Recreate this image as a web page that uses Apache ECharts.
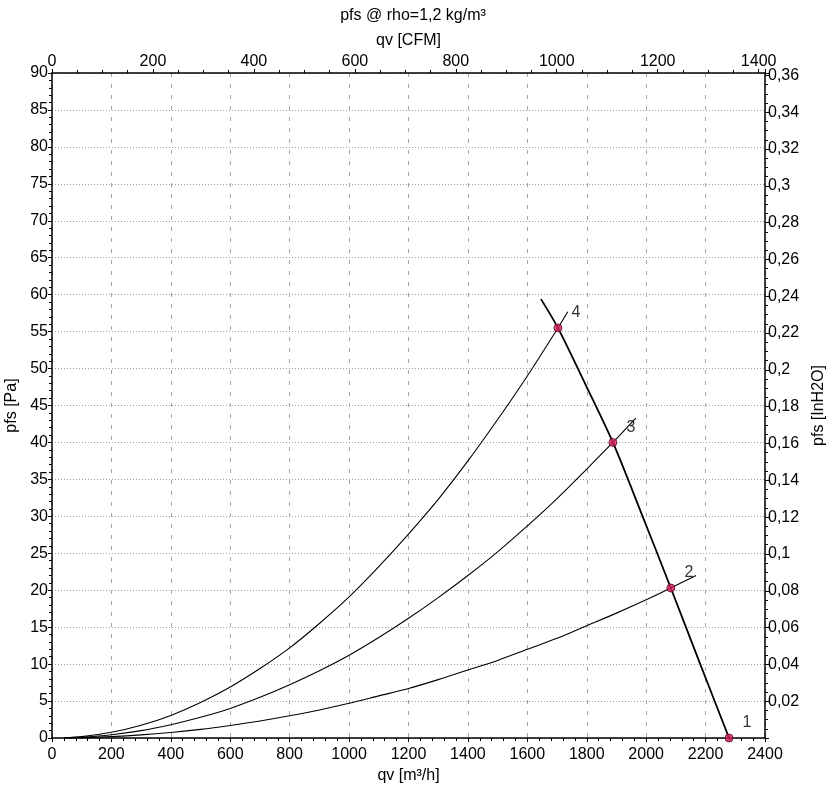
<!DOCTYPE html>
<html>
<head>
<meta charset="utf-8">
<script src="https://cdn.jsdelivr.net/npm/echarts@6/dist/echarts.min.js"></script>
<style>
html,body{margin:0;padding:0;background:#fff;}
#chart{width:826px;height:787px;}
</style>
</head>
<body>
<div id="chart"></div>
<script>
// ---- data ----
const titleText = 'pfs @ rho=1,2 kg/m³';
const xNameBottom = 'qv [m³/h]';
const xNameTop = 'qv [CFM]';
const yNameLeft = 'pfs [Pa]';
const yNameRight = 'pfs [InH2O]';

// fan curve (m³/h, Pa)
const fanQ = [1646, 1703, 1795, 1888, 1985, 2083, 2180, 2279];
const fanP = [59.4, 55.5, 47.9, 40.0, 30.3, 20.3, 10.2, 0];

// system curves (m³/h, Pa)
const sys4Q = [40, 100, 200, 300, 400, 500, 600, 700, 800, 900, 1000, 1100, 1200, 1300, 1400, 1500, 1600, 1703, 1736];
const sys4P = [0.03, 0.19, 0.77, 1.72, 3.06, 4.8, 6.9, 9.4, 12.2, 15.5, 19.1, 23.2, 27.6, 32.3, 37.5, 43.1, 49.0, 55.5, 57.7];
const sys3Q = [40, 100, 200, 300, 400, 500, 600, 700, 800, 900, 1000, 1100, 1200, 1300, 1400, 1500, 1600, 1700, 1800, 1888, 1965];
const sys3P = [0.02, 0.11, 0.45, 1.0, 1.8, 2.8, 4.0, 5.5, 7.2, 9.1, 11.2, 13.6, 16.2, 19.0, 22.0, 25.2, 28.7, 32.4, 36.4, 40.0, 43.3];
const sys2Q = [40, 100, 200, 300, 400, 500, 600, 700, 800, 900, 1000, 1100, 1200, 1300, 1400, 1500, 1600, 1700, 1800, 1900, 2000, 2083, 2168];
const sys2P = [0.01, 0.05, 0.19, 0.42, 0.75, 1.17, 1.7, 2.3, 3.0, 3.8, 4.7, 5.7, 6.7, 7.9, 9.2, 10.5, 12.0, 13.5, 15.2, 16.9, 18.7, 20.3, 22.0];

// operating points
const opQ = [2279, 2083, 1888, 1703];
const opP = [0, 20.3, 40.0, 55.5];
const opLabels = ['1', '2', '3', '4'];

// axis ranges
const qMax = 2400, qStep = 200;
const pMax = 90, pStep = 5;
const cfmFactor = 1.699;       // m³/h per CFM
const inH2OFactor = 249.0889;  // Pa per inH2O
const cfmStep = 200;
const inStep = 0.02;

const zip = (a, b) => a.map((v, i) => [v, b[i]]);

const font = 'Liberation Sans, Arial, sans-serif';
const txt = {fontFamily: font, fontSize: 16, color: '#000'};

const chart = echarts.init(document.getElementById('chart'), null, {renderer: 'canvas'});

const axisLine = {show: true, onZero: false, lineStyle: {color: '#000', width: 1.5}};

const option = {
  animation: false,
  backgroundColor: '#fff',
  title: {
    text: titleText, left: 'center', top: 3,
    textStyle: {fontFamily: font, fontSize: 16, fontWeight: 'normal', color: '#000'}
  },
  grid: {left: 52, right: 61, top: 73, bottom: 49, containLabel: false, outerBoundsMode: 'none'},
  xAxis: [
    {
      type: 'value', position: 'bottom', min: 0, max: qMax, interval: qStep,
      name: xNameBottom, nameLocation: 'middle', nameGap: 29, nameTextStyle: txt,
      axisLine: axisLine,
      axisTick: {show: true, inside: false, length: 4, lineStyle: {color: '#000'}},
      minorTick: {show: true, splitNumber: 5, length: 3, lineStyle: {color: '#000'}},
      axisLabel: Object.assign({margin: 9, formatter: v => String(v)}, txt),
      splitLine: {show: true, lineStyle: {color: '#a6a6a6', type: [4, 7], width: 1}}
    },
    {
      type: 'value', position: 'top', min: 0, max: qMax / cfmFactor, interval: cfmStep,
      name: xNameTop, nameLocation: 'middle', nameGap: 24, nameTextStyle: txt,
      axisLine: axisLine,
      axisTick: {show: true, inside: false, length: 4, lineStyle: {color: '#000'}},
      minorTick: {show: true, splitNumber: 4, length: 3, lineStyle: {color: '#000'}},
      axisLabel: Object.assign({margin: 3, formatter: v => (Math.abs(v / cfmStep - Math.round(v / cfmStep)) < 1e-6 ? String(Math.round(v)) : '')}, txt),
      splitLine: {show: false}
    }
  ],
  yAxis: [
    {
      type: 'value', position: 'left', min: 0, max: pMax, interval: pStep,
      name: yNameLeft, nameLocation: 'middle', nameGap: 30, nameTextStyle: txt,
      axisLine: axisLine,
      axisTick: {show: true, inside: false, length: 4, lineStyle: {color: '#000'}},
      minorTick: {show: true, splitNumber: 5, length: 3, lineStyle: {color: '#000'}},
      axisLabel: Object.assign({margin: 4}, txt),
      splitLine: {show: true, lineStyle: {color: '#a0a0a0', type: [1, 2], width: 1}}
    },
    {
      type: 'value', position: 'right', min: 0, max: pMax / inH2OFactor, interval: inStep,
      name: yNameRight, nameLocation: 'middle', nameGap: 46, nameRotate: 90, nameTextStyle: txt,
      axisLine: axisLine,
      axisTick: {show: true, inside: false, length: 4, lineStyle: {color: '#000'}},
      minorTick: {show: true, splitNumber: 4, length: 3, lineStyle: {color: '#000'}},
      axisLabel: Object.assign({margin: 3, formatter: v => {
        const k = v / inStep;
        if (v === 0 || Math.abs(k - Math.round(k)) > 1e-6) return '';
        return String(+(Math.round(k) * inStep).toFixed(2)).replace('.', ',');
      }}, txt),
      splitLine: {show: false}
    }
  ],
  series: [
    {type: 'line', xAxisIndex: 0, yAxisIndex: 0, data: zip(sys4Q, sys4P), smooth: 0.3, showSymbol: false,
     lineStyle: {color: '#000', width: 1.1}, z: 3},
    {type: 'line', xAxisIndex: 0, yAxisIndex: 0, data: zip(sys3Q, sys3P), smooth: 0.3, showSymbol: false,
     lineStyle: {color: '#000', width: 1.1}, z: 3},
    {type: 'line', xAxisIndex: 0, yAxisIndex: 0, data: zip(sys2Q, sys2P), smooth: 0.3, showSymbol: false,
     lineStyle: {color: '#000', width: 1.1}, z: 3},
    {type: 'line', xAxisIndex: 0, yAxisIndex: 0, data: zip(fanQ, fanP), smooth: 0.3, showSymbol: false,
     lineStyle: {color: '#000', width: 1.8}, z: 4},
    {type: 'scatter', xAxisIndex: 0, yAxisIndex: 0,
     data: opQ.map((q, i) => ({value: [q, opP[i]], name: opLabels[i]})),
     symbol: 'circle', symbolSize: 8,
     itemStyle: {color: '#d41e5c', borderColor: '#5a0a22', borderWidth: 1},
     label: {show: true, formatter: p => p.name, position: 'inside', offset: [18, -15],
             fontFamily: font, fontSize: 16, color: '#000', textBorderWidth: 0},
     z: 5}
  ]
};
chart.setOption(option);
</script>
</body>
</html>
